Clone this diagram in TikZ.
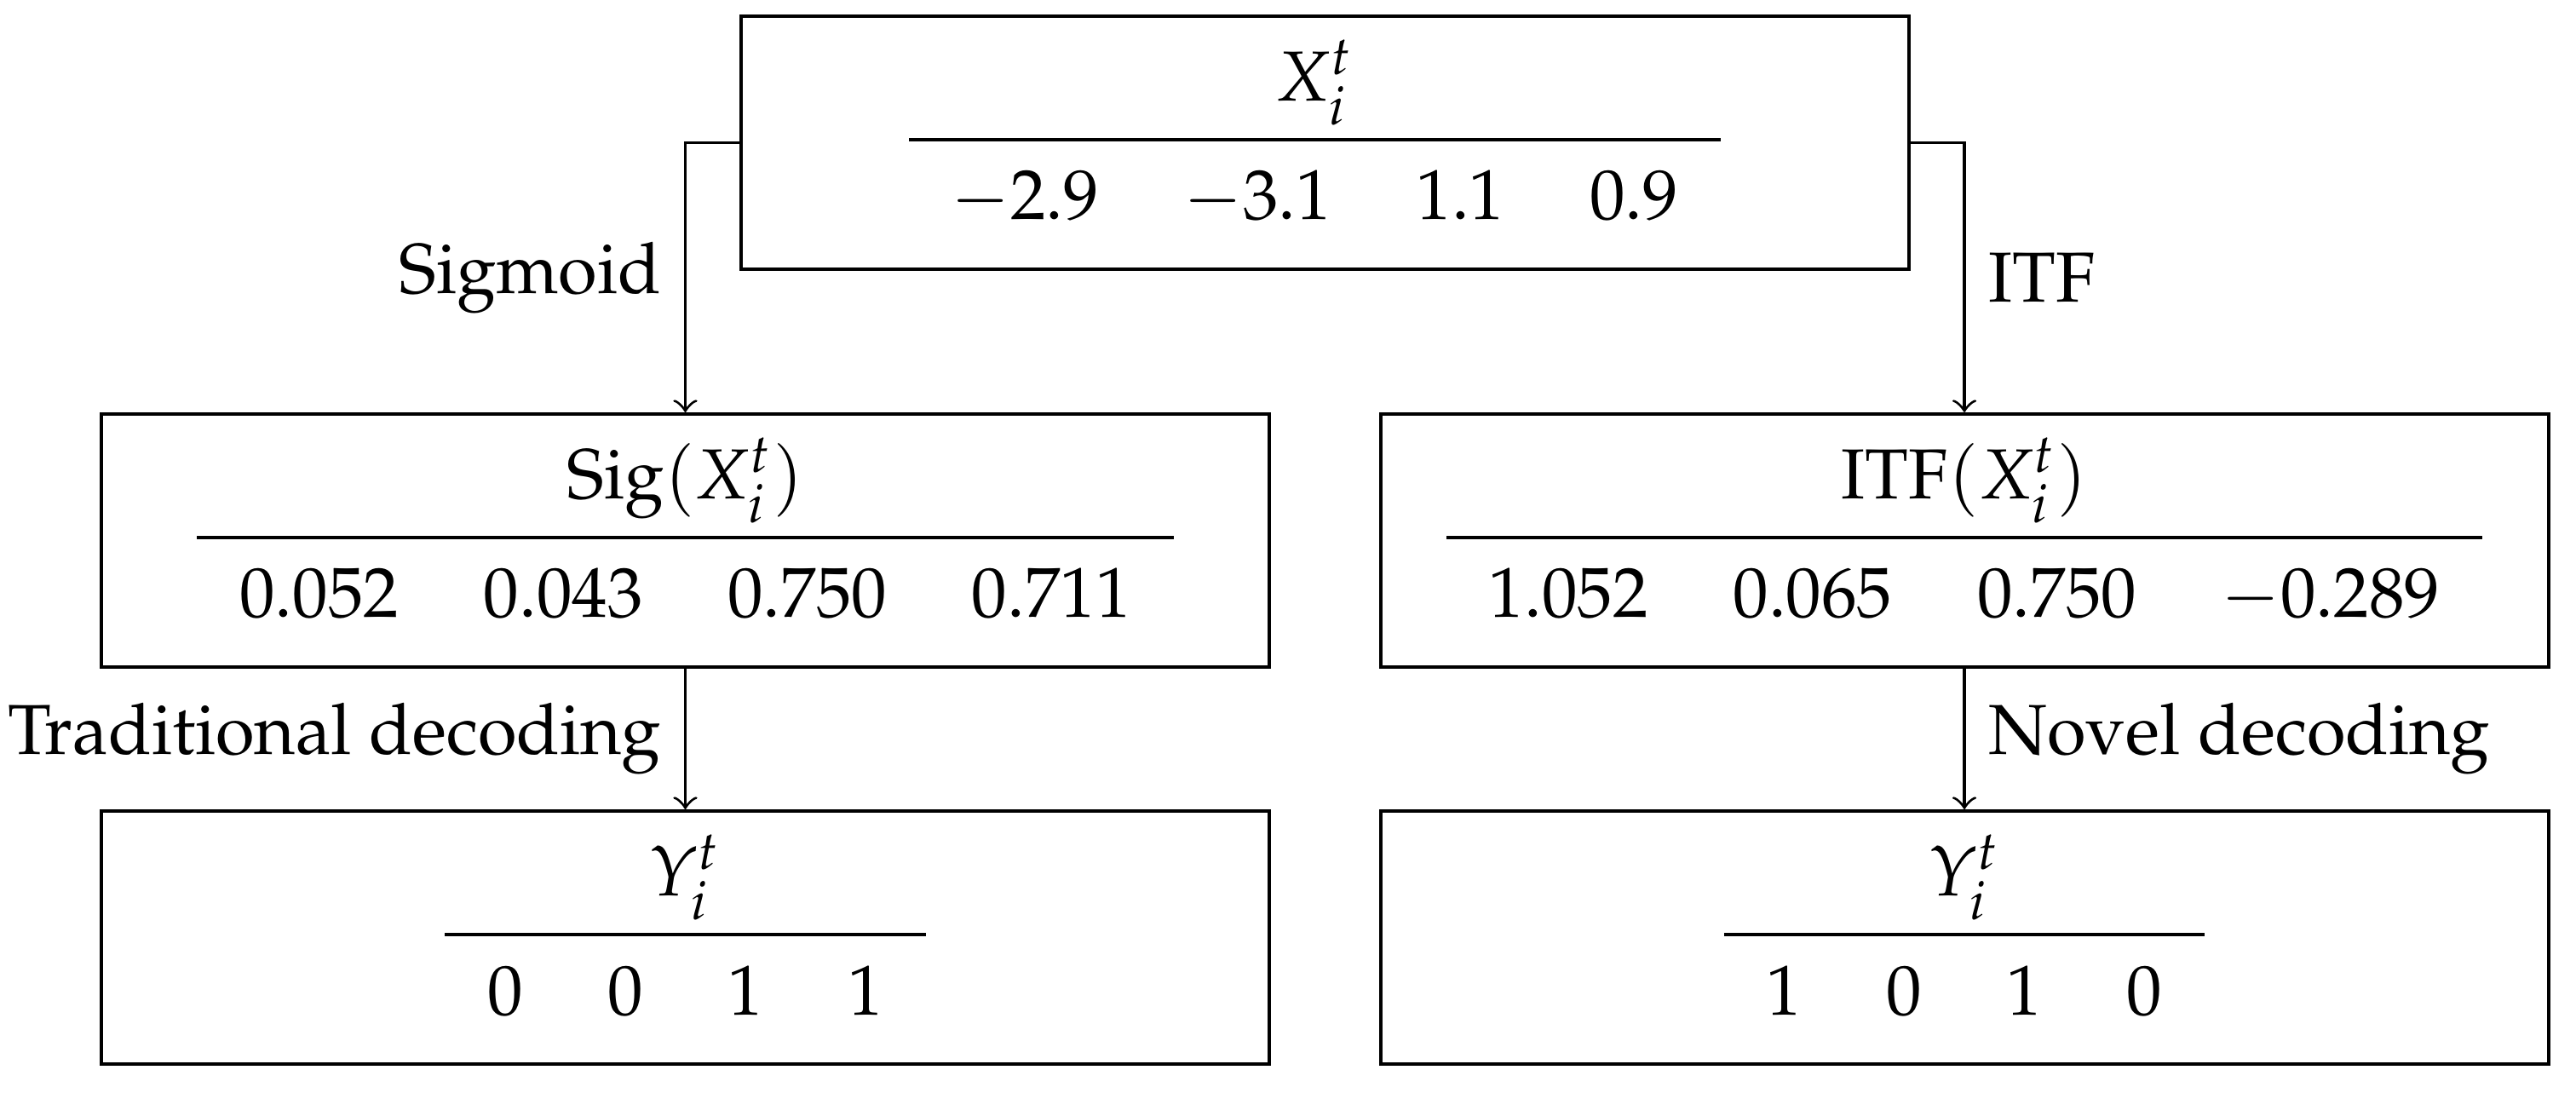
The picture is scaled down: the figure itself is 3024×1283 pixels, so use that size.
\documentclass[tikz,border=0pt]{standalone}
\usepackage[T1]{fontenc}
\usepackage{mathpazo}
\usepackage{booktabs}
\setlength{\tabcolsep}{6.2pt}
\begin{document}
\begin{tikzpicture}[x=0.12452pt,y=-0.12452pt,
  font=\fontsize{10.35}{12.4}\selectfont,
  box/.style={draw,line width=0.5pt,minimum width=6cm,minimum height=37pt,inner sep=0pt,align=center},
  conn/.style={line width=0.4pt,->}]
\useasboundingbox (0,0) rectangle (3024,1283);
\node[box] (top) at (1555.5,167.5) {\begin{tabular}{cccc}\multicolumn{4}{c}{$X_i^t$}\\\midrule $-2.9$ & $-3.1$ & $1.1$ & $0.9$\end{tabular}\hspace*{3pt}};
\node[box] (ml) at (804.5,634.5) {\begin{tabular}{cccc}\multicolumn{4}{c}{$\mathrm{Sig}(X_i^t)$}\\\midrule $0.052$ & $0.043$ & $0.750$ & $0.711$\end{tabular}};
\node[box] (mr) at (2306,634.5) {\begin{tabular}{cccc}\multicolumn{4}{c}{$\mathrm{ITF}(X_i^t)$}\\\midrule $1.052$ & $0.065$ & $0.750$ & $-0.289$\end{tabular}};
\node[box] (bl) at (804.5,1100.5) {\begin{tabular}{cccc}\multicolumn{4}{c}{$Y_i^t$}\\\midrule $0$ & $0$ & $1$ & $1$\end{tabular}};
\node[box] (br) at (2306,1100.5) {\begin{tabular}{cccc}\multicolumn{4}{c}{$Y_i^t$}\\\midrule $1$ & $0$ & $1$ & $0$\end{tabular}};
\draw[conn] (top.west) -| node[pos=0.75,left] {Sigmoid} (ml.north);
\draw[conn] (top.east) -| node[pos=0.75,right] {ITF} (mr.north);
\draw[conn] (ml.south) -- node[left] {Traditional decoding} (bl.north);
\draw[conn] (mr.south) -- node[right] {Novel decoding} (br.north);
\end{tikzpicture}
\end{document}
